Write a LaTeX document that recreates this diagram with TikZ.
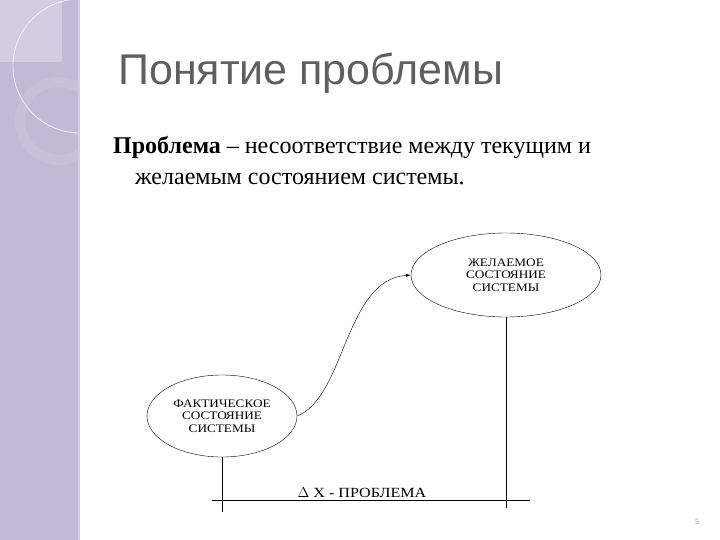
\documentclass[tikz,border=0pt]{standalone}
\usepackage{fontspec}
\setmainfont{Liberation Serif}
\newfontfamily\titlefont{Liberation Sans}
\newfontfamily\schemefont[FakeStretch=1.15]{Liberation Serif}
\usetikzlibrary{shapes.geometric,arrows.meta}
\definecolor{sidebar}{RGB}{197,184,214}
\definecolor{sidelight}{RGB}{213,204,226}
\definecolor{titlegray}{RGB}{95,95,95}

\begin{document}
\begin{tikzpicture}[x=1pt,y=-1pt,
  sost/.style={ellipse,draw,thin,inner sep=0pt,align=center,
    font=\schemefont\fontsize{11.5}{12.5}\selectfont},
  svyaz/.style={thin}]
  \useasboundingbox (0,0) rectangle (720,540);

  % боковая полоса слайда
  \fill[sidebar] (0,0) rectangle (78,540);
  \fill[sidelight] (78,0) rectangle (80,540);
  \fill[sidelight] (0,0) rectangle (62,62);
  \begin{scope}
    \clip (0,0) rectangle (78,540);
    \draw[white,opacity=0.8,line width=0.8pt] (80,66) circle (67);
    \fill[sidelight,opacity=0.35,even odd rule] (59,121) circle (44) (59,121) circle (34);
  \end{scope}

  % заголовок и определение
  \node[anchor=base west,text=titlegray,font=\titlefont\fontsize{43}{48}\selectfont,inner sep=0pt]
    (title) at (118,85) {Понятие проблемы};
  \node[anchor=base west,font=\fontsize{24}{30}\selectfont,inner sep=0pt]
    (line1) at (113,154) {\textbf{Проблема} – несоответствие между текущим и};
  \node[anchor=base west,font=\fontsize{24}{30}\selectfont,inner sep=0pt]
    (line2) at (135,185) {желаемым состоянием системы.};

  % состояния системы
  \node[sost,minimum width=190,minimum height=84] (want) at (506,275)
    {ЖЕЛАЕМОЕ\\СОСТОЯНИЕ\\СИСТЕМЫ};
  \node[sost,minimum width=150,minimum height=82] (fact) at (222,416)
    {ФАКТИЧЕСКОЕ\\СОСТОЯНИЕ\\СИСТЕМЫ};

  % переход
  \draw[svyaz,-{Latex[length=5pt,width=3pt]}] (fact.east) .. controls +(48,-19) and +(-66,5) .. (want.west);

  % разница между состояниями
  \coordinate (lbot) at (fact.south |- 0,512);
  \coordinate (rbot) at (want.south |- 0,508);
  \coordinate (hl) at (212,500);
  \coordinate (hr) at (530,500);
  \draw[svyaz] (fact.south) -- (lbot);
  \draw[svyaz] (want.south) -- (rbot);
  \draw[svyaz] (hl) -- (hr);
  \node[anchor=base,font=\schemefont\fontsize{14}{15}\selectfont,inner sep=0pt] (delta) at (362,497)
    {$\Delta$ X - ПРОБЛЕМА};

  % номер слайда
  \node[text=gray,font=\fontsize{8}{9}\selectfont] (num) at (697,522) {5};
\end{tikzpicture}
\end{document}
